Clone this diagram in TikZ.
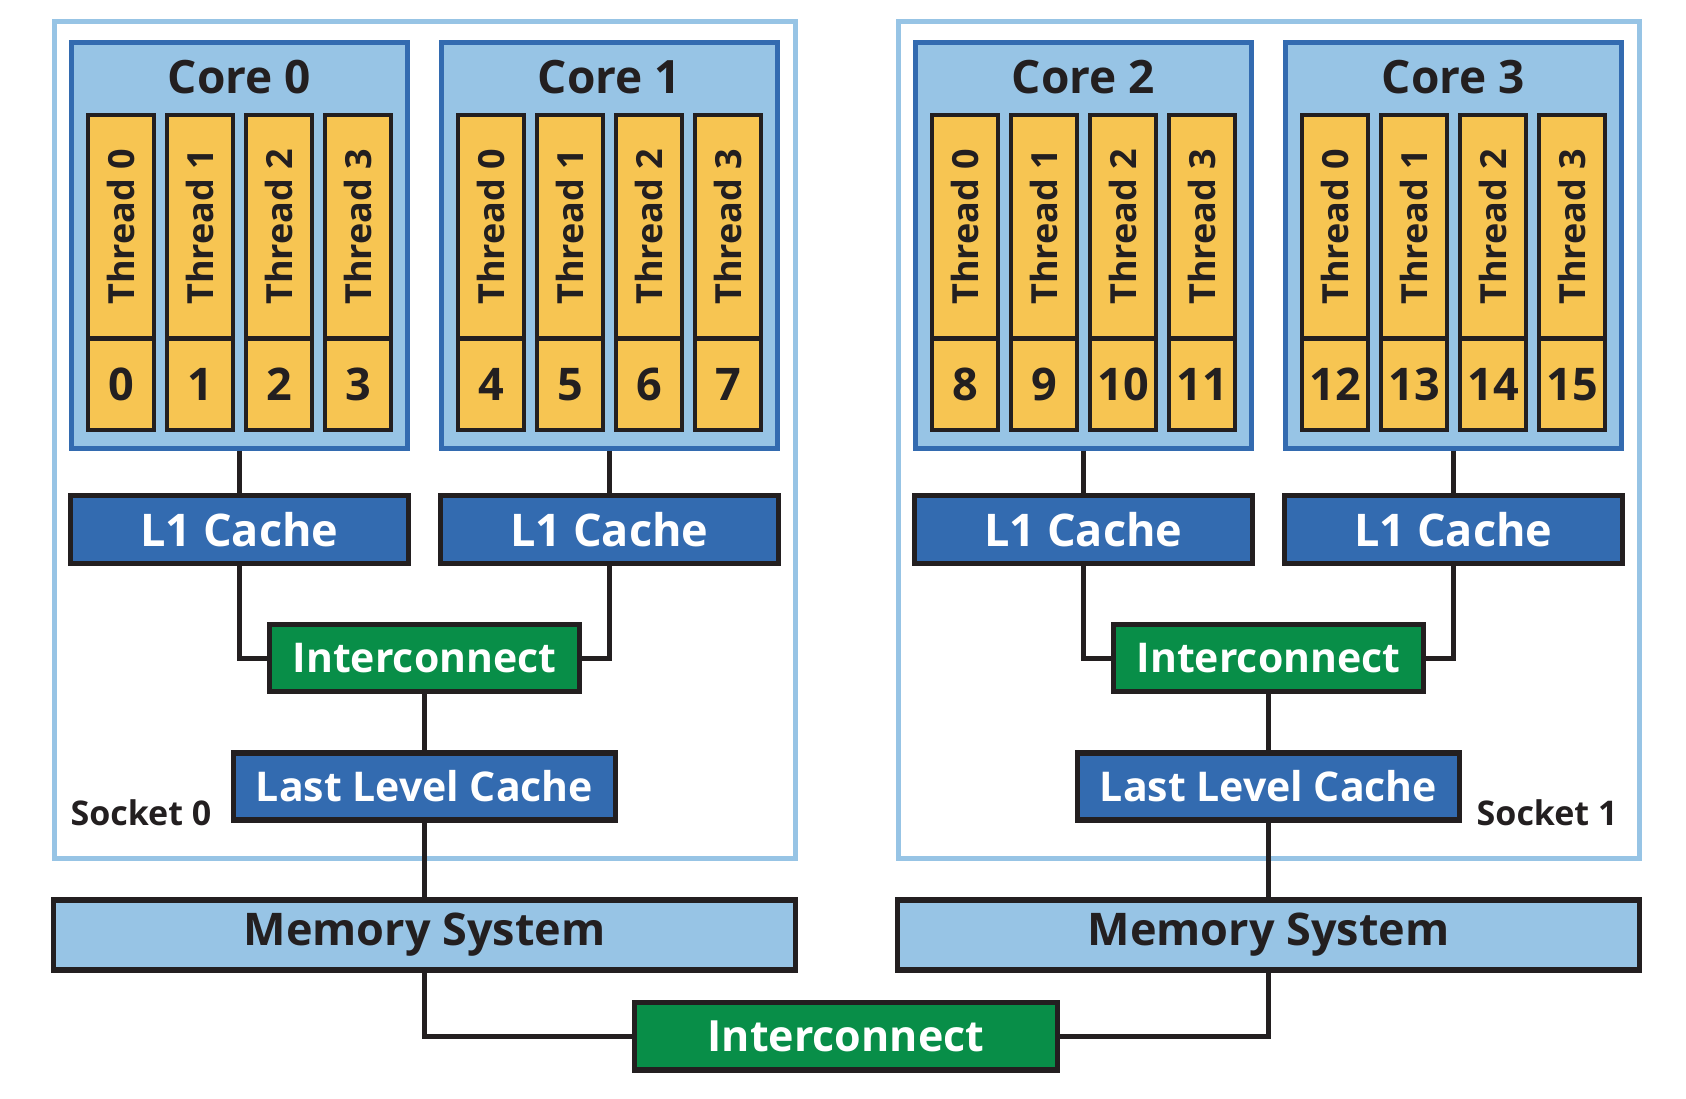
\documentclass[tikz,border=0pt]{standalone}
\usepackage{fontspec}
\setmainfont{Open Sans}

\definecolor{paleblue}{HTML}{97C4E5}
\definecolor{coreblue}{HTML}{336BB0}
\definecolor{threadyellow}{HTML}{F7C552}
\definecolor{ink}{HTML}{231F20}
\definecolor{netgreen}{HTML}{088E48}

\newcommand{\bfsize}[1]{\bfseries\fontsize{#1}{#1}\selectfont}

\tikzset{
  box/.style={rectangle, inner sep=0pt},
  corebox/.style={box, draw=coreblue, fill=paleblue, line width=5pt,
    minimum width=336pt, minimum height=406pt},
  threadbox/.style={box, draw=ink, fill=threadyellow, line width=4.5pt,
    minimum width=66pt, text=ink},
  cachebox/.style={box, draw=ink, fill=coreblue, line width=5.5pt,
    text=white, minimum height=68pt, font=\bfsize{45pt}},
  netbox/.style={box, draw=ink, fill=netgreen, line width=5.5pt,
    text=white, minimum height=67pt, font=\bfsize{41pt}},
  membox/.style={box, draw=ink, fill=paleblue, line width=5.5pt,
    text=ink, minimum width=742pt, minimum height=70pt, font=\bfsize{45pt}},
  wire/.style={draw=ink, line width=5pt},
}

\begin{document}
\begin{tikzpicture}[x=1pt,y=-1pt]

  % fix the page size
  \useasboundingbox (0,0) rectangle (1686,1098);

  % socket frames
  \foreach \sx in {424.5,1268.5} {
    \draw [paleblue, line width=5pt] (\sx-370.5,21.5) rectangle (\sx+370.5,858);
  }

  % cores with their threads and L1 caches
  \foreach \c/\cx in {0/239.5,1/609.5,2/1083.5,3/1453.5} {
    \node[corebox] (core\c) at (\cx,245) {};
    \node[text=ink, font=\bfsize{46pt}] (title\c) at (\cx,77) {Core \c};
    \foreach \t/\dx in {0/-118.5,1/-39.5,2/39.5,3/118.5} {
      \pgfmathtruncatemacro\n{4*\c+\t}
      \node[threadbox, minimum height=223.5pt, font=\bfsize{36pt}]
        (thr\c\t) at (\cx+\dx,226.75) {\rotatebox{90}{Thread \t}};
      \node[threadbox, minimum height=91.5pt, font=\bfsize{45pt}]
        (num\c\t) at (\cx+\dx,384.25) {\n};
    }
    \node[cachebox, minimum width=338pt] (lone\c) at (\cx,529.5) {L1 Cache};
    \draw[wire] (core\c) -- (lone\c);
  }

  % shared part of each socket
  \foreach \s/\sx/\a/\b in {0/424.5/0/1,1/1268.5/2/3} {
    \node[netbox, minimum width=310pt] (net\s) at (\sx,658) {Interconnect};
    \node[cachebox, minimum width=382pt, minimum height=67pt, font=\bfsize{41pt}]
      (llc\s) at (\sx,786.5) {Last Level Cache};
    \node[membox] (mem\s) at (\sx,935) {Memory System};
    \draw[wire] (lone\a) |- (net\s);
    \draw[wire] (lone\b) |- (net\s);
    \draw[wire] (net\s) -- (llc\s);
    \draw[wire] (llc\s) -- (mem\s);
  }

  % socket labels
  \node[anchor=base west, text=ink, font=\bfsize{34pt}] (sock0) at (67,825) {Socket 0};
  \node[anchor=base east, text=ink, font=\bfsize{34pt}] (sock1) at (1621,825) {Socket 1};

  % interconnect between the sockets
  \node[netbox, minimum width=423pt, minimum height=67.5pt, font=\bfsize{43pt}]
    (bus) at (846,1036) {Interconnect};
  \draw[wire] (mem0) |- (bus);
  \draw[wire] (mem1) |- (bus);

\end{tikzpicture}
\end{document}
